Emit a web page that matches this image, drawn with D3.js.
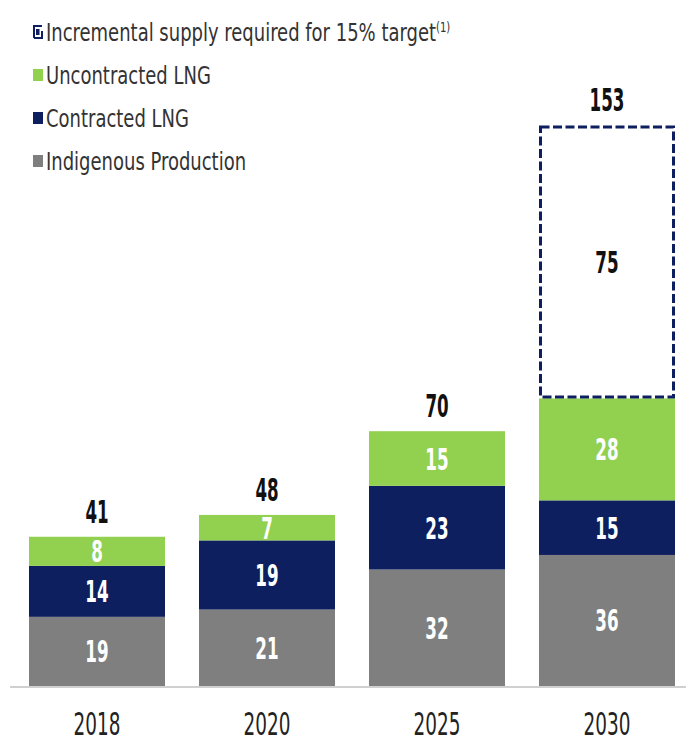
<!DOCTYPE html>
<html>
<head>
<meta charset="utf-8">
<script src="https://cdn.jsdelivr.net/npm/d3@7"></script>
<style>
  html, body { margin: 0; padding: 0; background: #fff; }
  svg text { font-family: "DejaVu Sans Condensed", "DejaVu Sans", sans-serif; font-stretch: condensed; }
</style>
</head>
<body>
<svg id="chart" width="686" height="744"></svg>
<script>
// Gas supply build-up by year (bcm)
const years = ["2018", "2020", "2025", "2030"];
const indigenous = [19, 21, 32, 36];
const contracted = [14, 19, 23, 15];
const uncontracted = [8, 7, 15, 28];
const incremental = [0, 0, 0, 75];
const totals = [41, 48, 70, 153];

const seriesKeys = ["indigenous", "contracted", "uncontracted"];
const seriesNames = ["Indigenous Production", "Contracted LNG", "Uncontracted LNG"];
const colors = { indigenous: "#7f7f7f", contracted: "#0d1f5e", uncontracted: "#92d050" };
const navy = "#0d1f5e";

const rows = years.map((y, i) => ({
  year: y,
  indigenous: indigenous[i],
  contracted: contracted[i],
  uncontracted: uncontracted[i],
  incremental: incremental[i],
  total: totals[i]
}));

const svg = d3.select("#chart");
const baseY = 686;

const x = d3.scaleBand().domain(years).range([12, 692]).paddingInner(0.2).paddingOuter(0.1);
const y = d3.scaleLinear().domain([0, 160]).range([baseY, baseY - 160 * 3.64]);

// tall, narrow lettering: anchor at (px, py), squeeze horizontally
const squeeze = (sel, px, py, sx) =>
  sel.attr("x", 0).attr("y", 0)
     .attr("transform", d => `translate(${px(d)},${py(d)}) scale(${sx},1)`);

const stacked = d3.stack().keys(seriesKeys)(rows);

// Stacked segments
const layers = svg.append("g").selectAll("g")
  .data(stacked).join("g")
  .attr("fill", d => colors[d.key]);

layers.selectAll("rect")
  .data(d => d.map(v => ({ v, key: d.key })))
  .join("rect")
  .attr("x", d => x(d.v.data.year))
  .attr("width", x.bandwidth())
  .attr("y", d => y(d.v[1]))
  .attr("height", d => y(d.v[0]) - y(d.v[1]));

// Segment value labels
layers.selectAll("text")
  .data(d => d.map(v => ({ v, key: d.key })))
  .join("text")
  .call(squeeze,
        d => x(d.v.data.year) + x.bandwidth() / 2,
        d => (y(d.v[0]) + y(d.v[1])) / 2 + 11,
        0.62)
  .attr("text-anchor", "middle")
  .attr("fill", "#fff")
  .attr("font-weight", "bold")
  .attr("font-size", 30)
  .text(d => d.v.data[d.key]);

// Incremental requirement (dashed outline) on top of the stack
const base3 = d => d.indigenous + d.contracted + d.uncontracted;
const incRows = rows.filter(r => r.incremental > 0);
const incG = svg.append("g");
incG.selectAll("rect")
  .data(incRows).join("rect")
  .attr("x", d => x(d.year) + 1.5)
  .attr("width", x.bandwidth() - 3)
  .attr("y", d => y(base3(d) + d.incremental) + 1.5)
  .attr("height", d => y(base3(d)) - y(base3(d) + d.incremental) - 3)
  .attr("fill", "none")
  .attr("stroke", navy)
  .attr("stroke-width", 3)
  .attr("stroke-dasharray", "9 3.5");
incG.selectAll("text")
  .data(incRows).join("text")
  .call(squeeze,
        d => x(d.year) + x.bandwidth() / 2,
        d => (y(base3(d)) + y(base3(d) + d.incremental)) / 2 + 11,
        0.62)
  .attr("text-anchor", "middle")
  .attr("fill", "#111")
  .attr("font-weight", "bold")
  .attr("font-size", 30)
  .text(d => d.incremental);

// Totals above each bar
svg.append("g").selectAll("text")
  .data(rows).join("text")
  .call(squeeze,
        d => x(d.year) + x.bandwidth() / 2,
        d => y(base3(d) + d.incremental) - 14,
        0.58)
  .attr("text-anchor", "middle")
  .attr("fill", "#111")
  .attr("font-weight", "bold")
  .attr("font-size", 32)
  .text(d => d.total);

// Baseline
svg.append("line")
  .attr("x1", 10).attr("x2", 686)
  .attr("y1", baseY + 1).attr("y2", baseY + 1)
  .attr("stroke", "#d0d0d0").attr("stroke-width", 2);

// Category axis
const xAxis = svg.append("g")
  .attr("transform", `translate(0,${baseY})`)
  .call(d3.axisBottom(x).tickSize(0));
xAxis.select(".domain").remove();
xAxis.selectAll(".tick text")
  .attr("y", 0).attr("dy", null)
  .attr("transform", "translate(0,49) scale(0.64,1)")
  .attr("font-size", 32)
  .attr("fill", "#222")
  .style("font-family", "\"DejaVu Sans Condensed\", \"DejaVu Sans\", sans-serif");

// Legend
const legendItems = [
  { label: "Incremental supply required for 15% target", sup: "(1)", dashed: true },
  { label: seriesNames[2], color: colors.uncontracted },
  { label: seriesNames[1], color: colors.contracted },
  { label: seriesNames[0], color: colors.indigenous }
];
const legend = svg.append("g");
const lg = legend.selectAll("g")
  .data(legendItems).join("g")
  .attr("transform", (d, i) => `translate(33,${32 + i * 43})`);
lg.filter(d => !d.dashed).append("rect")
  .attr("x", 0).attr("y", -6).attr("width", 10).attr("height", 12)
  .attr("fill", d => d.color);
const dashIcon = lg.filter(d => d.dashed);
dashIcon.append("path")
  .attr("d", "M1,6 V-6 H9 M1,6 H9 V-1")
  .attr("fill", "none").attr("stroke", navy).attr("stroke-width", 2);
dashIcon.append("rect")
  .attr("x", 3).attr("y", -3).attr("width", 3.5).attr("height", 6)
  .attr("fill", navy);
const lt = lg.append("text")
  .attr("x", 0).attr("y", 0)
  .attr("transform", "translate(13,9) scale(0.8,1)")
  .attr("font-size", 25)
  .attr("fill", "#333");
lt.append("tspan").text(d => d.label);
lt.filter(d => d.sup).append("tspan")
  .attr("dy", "-0.62em").attr("font-size", 14)
  .text(d => d.sup);
</script>
</body>
</html>
